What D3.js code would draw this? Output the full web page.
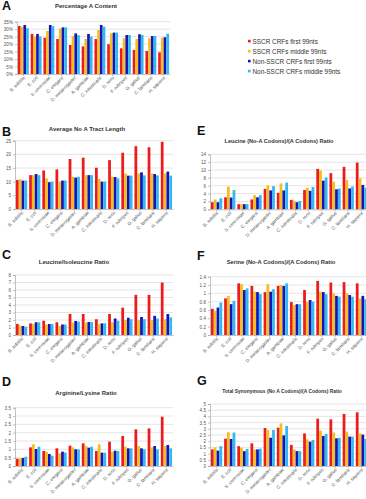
<!DOCTYPE html>
<html><head><meta charset="utf-8">
<script src="https://cdn.jsdelivr.net/npm/d3@7"></script>
<style>body{margin:0;background:#fff;}svg{display:block;font-family:Arial,"Liberation Sans",sans-serif;}</style>
</head><body><svg id="c" width="366" height="499"></svg>
<script>
const species = ["B. subtilis","E. coli","S. cerevisiae","C. elegans","D. melanogaster","A. gambiae","C. intestinalis","D. rerio","F. rubripes","G. gallus","C. familiaris","H. sapiens"];
const seriesNames = ["SSCR CRFs first 99nts","SSCR CRFs middle 99nts","Non-SSCR CRFs first 99nts","Non-SSCR CRFs middle 99nts"];
const colors = ["#ec1c1c","#f7bd1f","#1414b8","#34b8f2"];

// A: Percentage A content (%)
const aSscrFirst   = [32.1,26.8,24.3,23.4,19.4,18.5,23.4,19.9,17.2,16.1,15.4,14.5];
const aSscrMiddle  = [31.5,25.0,28.8,30.4,25.4,23.4,29.5,27.2,23.9,23.4,23.9,24.3];
const aNonFirst    = [32.8,26.8,32.8,31.2,27.2,26.8,32.8,27.7,26.1,26.6,25.4,24.6];
const aNonMiddle   = [30.6,25.0,32.0,31.2,26.0,25.0,31.7,27.7,26.1,26.1,25.4,27.0];
// B: Average No A tract length
const bSscrFirst   = [10.6,12.4,14.1,14.5,18.3,18.8,15.1,17.9,20.6,23.0,22.6,24.6];
const bSscrMiddle  = [10.9,12.4,11.2,10.0,11.8,12.4,11.0,11.8,13.0,13.0,13.0,13.0];
const bNonFirst    = [10.4,12.8,9.8,10.4,11.5,12.4,10.0,11.7,12.2,13.4,12.8,13.7];
const bNonMiddle   = [10.4,12.4,10.0,10.4,11.8,12.4,10.0,11.2,12.2,12.3,12.3,12.2];
// C: Leucine/Isoleucine ratio
const cSscrFirst   = [1.47,1.55,1.9,1.7,2.8,2.8,2.1,2.8,3.65,5.35,5.35,7.0];
const cSscrMiddle  = [1.25,1.5,1.4,1.2,1.65,1.65,1.47,1.7,2.0,2.0,2.0,2.1];
const cNonFirst    = [1.2,1.7,1.47,1.4,1.87,1.73,1.55,2.2,2.3,2.4,2.55,2.8];
const cNonMiddle   = [1.1,1.7,1.47,1.4,1.78,1.73,1.55,1.9,2.1,2.1,2.2,2.35];
// D: Arginine/Lysine ratio
const dSscrFirst   = [0.44,1.12,0.9,1.06,1.22,1.36,0.9,1.46,1.8,2.2,2.26,2.96];
const dSscrMiddle  = [0.46,1.3,0.86,0.76,1.12,1.2,1.3,0.86,1.16,1.2,1.12,1.2];
const dNonFirst    = [0.48,1.02,0.72,0.86,1.0,1.1,0.8,0.92,1.06,1.06,1.2,1.26];
const dNonMiddle   = [0.56,1.16,0.62,0.8,1.0,1.16,0.8,0.9,1.06,1.0,1.0,1.06];
// E: Leucine (No-A codons)/(A codons) ratio
const eSscrFirst   = [1.8,3.05,1.3,2.5,5.2,4.2,2.4,4.9,10.3,9.2,10.8,11.9];
const eSscrMiddle  = [2.5,5.8,1.3,3.6,6.1,6.6,2.2,5.5,9.9,7.0,7.5,7.9];
const eNonFirst    = [1.8,3.0,1.3,3.05,4.8,4.8,1.8,4.7,7.3,5.1,5.3,6.2];
const eNonMiddle   = [2.8,4.9,1.3,3.6,5.9,6.8,2.1,5.7,8.1,5.3,5.8,5.5];
// F: Serine (No-A codons)/(A codons) ratio
const fSscrFirst   = [0.63,0.88,1.24,1.18,1.03,1.18,0.79,1.08,1.3,1.26,1.27,1.24];
const fSscrMiddle  = [0.58,0.94,1.22,1.04,1.22,1.2,0.72,0.8,1.04,1.0,1.0,0.88];
const fNonFirst    = [0.66,0.74,1.08,1.03,1.04,1.18,0.74,0.84,1.03,0.94,0.96,0.94];
const fNonMiddle   = [0.78,0.82,1.12,0.98,1.1,1.24,0.74,0.8,0.98,0.92,0.92,0.86];
// G: Total synonymous (No A codons)/(A codons) ratio
const gSscrFirst   = [1.34,2.2,1.6,1.83,3.06,3.09,1.7,2.63,3.82,3.76,4.2,4.33];
const gSscrMiddle  = [1.5,2.72,1.48,1.32,2.9,3.44,1.34,2.15,2.85,2.7,2.77,2.63];
const gNonFirst    = [1.24,2.18,1.2,1.34,2.28,2.47,1.2,1.96,2.42,2.23,2.37,2.53];
const gNonMiddle   = [1.6,2.7,1.37,1.4,2.9,3.23,1.2,2.1,2.58,2.28,2.37,2.18];

const aTicks = [0,5,10,15,20,25,30,35];
const bTicks = [0,5,10,15,20,25];
const cTicks = [0,1,2,3,4,5,6,7,8];
const dTicks = [0,0.5,1,1.5,2,2.5,3,3.5];
const eTicks = [0,2,4,6,8,10,12,14];
const fTicks = [0,0.2,0.4,0.6,0.8,1,1.2,1.4];
const gTicks = [0,0.5,1,1.5,2,2.5,3,3.5,4,4.5,5];

const svg = d3.select("#c");

const panels = [
 {letter:"A", lx:2, ly:10, title:"Percentage A Content", tx:86, ty:8, tfs:6, x0:17, x1:170, yb:74, yt:21.7,
  ticks:aTicks, fmt:d=>d+"%", data:[aSscrFirst,aSscrMiddle,aNonFirst,aNonMiddle]},
 {letter:"B", lx:2, ly:136, title:"Average No A Tract Length", tx:87, ty:131, tfs:6, x0:15, x1:173, yb:209, yt:140.7,
  ticks:bTicks, fmt:d=>d, data:[bSscrFirst,bSscrMiddle,bNonFirst,bNonMiddle]},
 {letter:"C", lx:2, ly:259, title:"Leucine/Isoleucine Ratio", tx:74, ty:264, tfs:6, x0:15, x1:173, yb:335, yt:275,
  ticks:cTicks, fmt:d=>d, data:[cSscrFirst,cSscrMiddle,cNonFirst,cNonMiddle]},
 {letter:"D", lx:2, ly:386, title:"Arginine/Lysine Ratio", tx:86, ty:395, tfs:6, x0:15, x1:173, yb:466, yt:407.7,
  ticks:dTicks, fmt:d=>d, data:[dSscrFirst,dSscrMiddle,dNonFirst,dNonMiddle]},
 {letter:"E", lx:197, ly:135, title:"Leucine (No-A Codons)/(A Codons) Ratio", tx:279, ty:143, tfs:5.6, x0:210, x1:368, yb:209.3, yt:154.3,
  ticks:eTicks, fmt:d=>d, data:[eSscrFirst,eSscrMiddle,eNonFirst,eNonMiddle]},
 {letter:"F", lx:197, ly:260, title:"Serine (No-A Codons)/(A Codons) Ratio", tx:281, ty:264, tfs:5.8, x0:210, x1:368, yb:335, yt:276.7,
  ticks:fTicks, fmt:d=>d, data:[fSscrFirst,fSscrMiddle,fNonFirst,fNonMiddle]},
 {letter:"G", lx:197, ly:385, title:"Total Synonymous (No A Codons)/(A Codons) Ratio", tx:282, ty:393, tfs:4.9, x0:210, x1:368, yb:466, yt:404,
  ticks:gTicks, fmt:d=>d, data:[gSscrFirst,gSscrMiddle,gNonFirst,gNonMiddle]}
];

panels.forEach(p => {
  const g = svg.append("g");
  const maxT = p.ticks[p.ticks.length-1];
  const y = d3.scaleLinear().domain([0,maxT]).range([p.yb,p.yt]);
  const x = d3.scaleBand().domain(species).range([p.x0,p.x1]).paddingInner(0.14).paddingOuter(0.07);
  const xs = d3.scaleBand().domain(d3.range(4)).range([0,x.bandwidth()]).padding(0.02);

  // gridlines
  g.append("g").selectAll("line").data(p.ticks.filter(t=>t>0)).join("line")
    .attr("x1",p.x0).attr("x2",p.x1).attr("y1",d=>y(d)).attr("y2",d=>y(d))
    .attr("stroke","#d4d4d4").attr("stroke-width",0.6);

  // bars
  const groups = g.append("g").selectAll("g").data(species).join("g")
    .attr("transform",d=>`translate(${x(d)},0)`);
  groups.selectAll("rect").data((d,i)=>p.data.map((s,k)=>({k, v:s[i]}))).join("rect")
    .attr("x",d=>xs(d.k)).attr("width",xs.bandwidth())
    .attr("y",d=>y(d.v)).attr("height",d=>p.yb-y(d.v))
    .attr("fill",d=>colors[d.k]);

  // y axis
  const ya = g.append("g").attr("transform",`translate(${p.x0},0)`)
    .call(d3.axisLeft(y).tickValues(p.ticks).tickFormat(p.fmt).tickSize(2).tickPadding(2));
  ya.select(".domain").attr("stroke","#999").attr("stroke-width",0.6);
  ya.selectAll(".tick line").attr("stroke","#999").attr("stroke-width",0.6);
  ya.selectAll("text").attr("font-size",4.6).attr("fill","#555").attr("font-family","Arial,'Liberation Sans',sans-serif");

  // x axis
  const xa = g.append("g").attr("transform",`translate(0,${p.yb})`)
    .call(d3.axisBottom(x).tickSize(2).tickSizeOuter(0));
  xa.select(".domain").attr("stroke","#999").attr("stroke-width",0.6);
  xa.selectAll(".tick line").attr("stroke","#999").attr("stroke-width",0.6);
  xa.selectAll("text").attr("font-size",4.6).attr("fill","#555")
    .attr("font-family","Arial,'Liberation Sans',sans-serif")
    .attr("text-anchor","end").attr("dy",null).attr("y",0)
    .attr("transform","translate(2,4) rotate(-45)");

  // title and letter
  svg.append("text").attr("x",p.tx).attr("y",p.ty).attr("text-anchor","middle")
    .attr("font-size",p.tfs).attr("font-weight","bold").attr("fill","#333").text(p.title);
  svg.append("text").attr("x",p.lx).attr("y",p.ly).attr("font-size",12.5)
    .attr("font-weight","bold").attr("fill","#111").text(p.letter);
});

// legend
const lg = svg.append("g").attr("transform","translate(248,42)");
seriesNames.forEach((n,i)=>{
  lg.append("rect").attr("x",0).attr("y",i*10-2.2).attr("width",2.6).attr("height",2.6).attr("fill",colors[i]);
  lg.append("text").attr("x",4.5).attr("y",i*10+0.4).attr("dominant-baseline","middle")
    .attr("font-size",6.4).attr("fill","#333").text(n);
});
</script></body></html>
